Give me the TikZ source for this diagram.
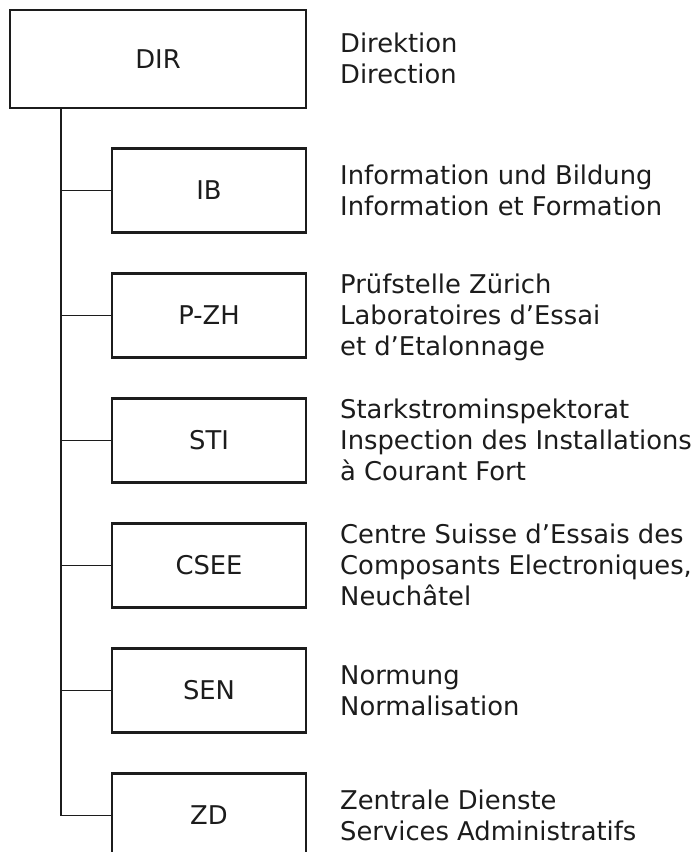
\documentclass[tikz,border=0pt]{standalone}
\usepackage{fontspec}
\setmainfont{DejaVu Sans}
\definecolor{ink}{RGB}{28,28,28}
\newcommand\lblfont{\fontsize{25.8}{31}\selectfont}
\begin{document}
\begin{tikzpicture}[x=1pt,y=-1pt,
  box/.style={draw=ink, line width=2.2pt, minimum width=194pt, minimum height=84pt, inner sep=0pt, font=\lblfont, text=ink},
  link/.style={draw=ink, line width=1.2pt},
  desc/.style={anchor=base west, align=left, inner sep=0pt, font=\lblfont, text=ink}]
\clip (0,0) rectangle (699,852);
\fill[white] (0,0) rectangle (699,852);
% boxes
\node[box, minimum width=296pt, minimum height=98pt] (dir) at (158,59) {DIR};
\node[box] (ib)   at (209,190.5) {IB};
\node[box] (pzh)  at (209,315.5) {P-ZH};
\node[box] (sti)  at (209,440.5) {STI};
\node[box] (csee) at (209,565.5) {CSEE};
\node[box] (sen)  at (209,690.5) {SEN};
\node[box] (zd)   at (209,815.5) {ZD};
% connectors
\coordinate (tend) at (61,815.5);
\draw[link] (dir.south -| tend) -- (tend);
\foreach \n in {ib,pzh,sti,csee,sen,zd}
  \draw[link] (\n.west -| tend) -- (\n.west);
% descriptions (anchored at the baseline of the last line)
\node[desc] (tdir)  at (340,83.9)  {Direktion\\Direction};
\node[desc] (tib)   at (340,215.4) {Information und Bildung\\Information et Formation};
\node[desc] (tpzh)  at (340,355.9) {Prüfstelle Zürich\\Laboratoires d’Essai\\et d’Etalonnage};
\node[desc] (tsti)  at (340,480.9) {Starkstrominspektorat\\Inspection des Installations\\à Courant Fort};
\node[desc] (tcsee) at (340,605.9) {Centre Suisse d’Essais des\\Composants Electroniques,\\Neuchâtel};
\node[desc] (tsen)  at (340,715.4) {Normung\\Normalisation};
\node[desc] (tzd)   at (340,840.4) {Zentrale Dienste\\Services Administratifs};
\end{tikzpicture}
\end{document}
